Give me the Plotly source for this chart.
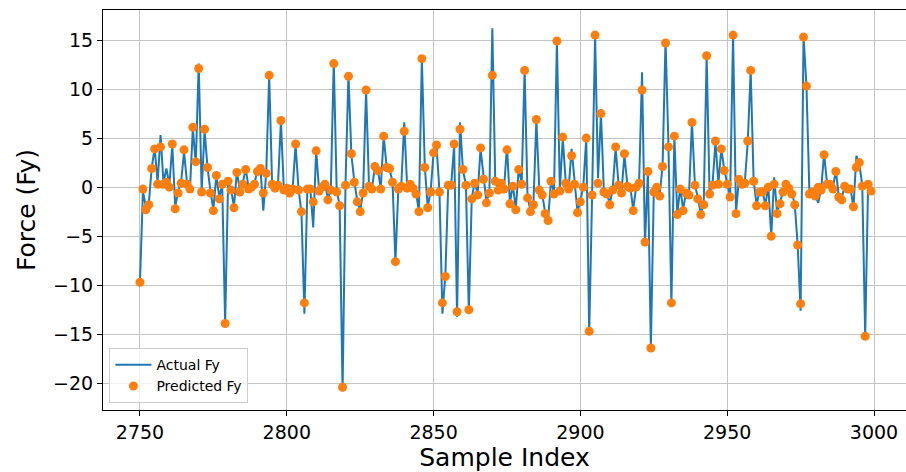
import plotly.graph_objects as go

# Sample indices covered by the window
start_index = 2750
n_samples = 250
sample_index = list(range(start_index, start_index + n_samples))

# Measured lateral force
actual_fy = [
    -9.7, -0.4, -2.0, -1.7, 2.0, 4.0, 0.5, 5.3, 0.5, 1.9,
    0.2, 4.3, -2.0, -0.4, 0.5, 3.6, 0.5, -0.3, 6.0, 2.4,
    12.6, -0.3, 5.8, 2.0, -0.4, -2.3, 1.2, -1.0, 0.2, -13.9,
    0.4, -0.2, -2.0, 1.6, -0.3, 0.4, 1.9, -0.1, 0.1, 0.4,
    1.7, 2.0, -2.4, 1.5, 11.4, 0.4, 0.0, 0.3, 6.7, -0.2,
    0.0, -0.5, -0.1, 4.3, -0.2, -2.6, -12.9, -0.1, -0.1, -4.1,
    3.7, -0.3, 0.1, 0.4, -1.2, -0.2, 12.8, -0.4, -1.8, -20.8,
    0.3, 11.5, 3.3, 0.6, -1.4, -2.4, -0.5, 9.9, 0.2, -0.1,
    2.0, 1.8, -0.1, 5.2, 2.1, 1.8, 0.6, -7.6, -0.1, 0.2,
    6.6, 0.0, 0.4, 0.0, -0.6, -2.4, 13.1, 2.1, -2.0, -0.4,
    3.6, 4.2, -0.4, -12.9, -9.0, 0.3, 0.3, 4.3, -13.2, 6.6,
    1.7, 0.3, -12.7, -1.1, 0.5, -0.7, 3.9, 0.9, -1.5, -0.5,
    16.2, 0.7, -0.2, 0.5, -0.1, 4.2, -1.6, 0.2, -2.2, 1.9,
    0.4, 12.0, -1.0, -2.4, -1.7, 6.8, -0.2, -0.7, -2.6, -3.3,
    0.7, -0.6, 14.9, -0.3, 5.0, 0.5, -0.1, 3.9, 0.4, -2.5,
    -1.4, 0.1, 5.0, -14.9, -0.7, 15.5, 0.9, 7.5, -0.4, -0.6,
    -1.7, -0.2, 4.0, 0.3, -0.5, 3.3, 0.2, 0.0, -2.3, 0.1,
    0.5, 11.7, -5.8, 1.7, -16.4, -0.4, 0.1, -0.8, 2.2, 15.0,
    4.2, -12.0, 5.1, -2.7, -0.1, -2.3, -0.5, -0.7, 6.6, 0.3,
    -1.1, -2.7, -1.7, 13.4, -0.6, 0.3, 4.6, 0.4, 3.9, 1.8,
    0.4, -0.9, 15.6, -2.6, 0.9, 0.4, 0.5, 4.6, 11.9, 0.7,
    -1.8, -0.4, -0.4, -1.8, 0.1, -5.0, 1.0, -2.6, -1.6, -0.4,
    0.4, 0.0, -0.6, -1.7, -5.9, -12.6, 15.4, 10.3, -0.6, -0.4,
    -0.8, -1.6, -0.2, 3.4, 0.4, 0.4, -0.1, 1.7, -0.9, -1.2,
    0.2, -0.1, -0.1, -2.1, 3.2, 2.4, 0.2, -15.2, 0.4, -0.3,
]

# Model prediction of the lateral force
predicted_fy = [
    -9.7, -0.2, -2.3, -1.8, 1.9, 3.9, 0.3, 4.1, 0.3, 0.5,
    0.0, 4.4, -2.2, -0.6, 0.4, 3.8, 0.3, -0.2, 6.1, 2.6,
    12.1, -0.5, 5.9, 2.0, -0.6, -2.4, 1.2, -1.2, 0.3, -13.9,
    0.6, -0.3, -2.1, 1.5, -0.5, 0.3, 1.8, -0.2, 0.0, 0.3,
    1.6, 1.9, -0.6, 1.4, 11.4, 0.3, -0.1, 0.2, 6.8, -0.3,
    -0.1, -0.6, -0.2, 4.4, -0.3, -2.5, -11.8, -0.2, -0.2, -1.5,
    3.7, -0.4, 0.0, 0.3, -1.3, -0.3, 12.6, -0.5, -1.9, -20.4,
    0.2, 11.3, 3.4, 0.5, -1.5, -2.5, -0.6, 9.9, 0.1, -0.2,
    2.1, 1.7, -0.2, 5.2, 2.0, 1.9, 0.5, -7.6, -0.2, 0.1,
    5.7, -0.1, 0.3, -0.1, -0.7, -2.5, 13.1, 2.0, -2.1, -0.5,
    3.5, 4.3, -0.5, -11.8, -9.1, 0.2, 0.2, 4.4, -12.7, 5.9,
    1.8, 0.2, -12.5, -1.2, 0.4, -0.8, 4.0, 0.8, -1.6, -0.6,
    11.4, 0.6, -0.3, 0.4, -0.2, 3.8, -1.7, 0.1, -2.3, 1.8,
    0.3, 11.9, -1.1, -2.5, -1.8, 6.9, -0.3, -0.8, -2.7, -3.4,
    0.6, -0.7, 14.9, -0.4, 5.1, 0.4, -0.2, 3.2, 0.3, -2.6,
    -1.5, 0.0, 5.0, -14.7, -0.8, 15.5, 0.4, 7.5, -0.5, -0.7,
    -1.8, -0.3, 4.1, 0.2, -0.6, 3.4, 0.1, -0.1, -2.4, 0.0,
    0.4, 9.9, -5.6, 1.6, -16.4, -0.5, 0.0, -0.9, 2.1, 14.7,
    4.1, -11.8, 5.2, -2.8, -0.2, -2.4, -0.6, -0.8, 6.6, 0.2,
    -1.2, -2.8, -1.8, 13.4, -0.7, 0.2, 4.7, 0.3, 3.9, 1.7,
    0.3, -1.0, 15.5, -2.7, 0.8, 0.3, 0.4, 4.7, 11.9, 0.6,
    -1.9, -0.5, -0.5, -1.9, 0.0, -5.0, 0.3, -2.7, -1.7, -0.5,
    0.3, -0.1, -0.7, -1.8, -5.9, -11.9, 15.3, 10.3, -0.7, -0.5,
    -0.9, 0.0, -0.3, 3.3, 0.3, 0.3, -0.2, 1.6, -1.0, -1.3,
    0.1, -0.2, -0.2, -2.0, 2.0, 2.5, 0.1, -15.2, 0.3, -0.4,
]

x_ticks = [2750, 2800, 2850, 2900, 2950, 3000]
y_ticks = [-20, -15, -10, -5, 0, 5, 10, 15]

BLUE = "#1f77b4"
ORANGE = "#ff7f0e"
FONT = "DejaVu Sans"

fig = go.Figure()
fig.add_trace(go.Scatter(
    x=sample_index, y=actual_fy, mode="lines", name="Actual Fy",
    line=dict(color=BLUE, width=2),
))
fig.add_trace(go.Scatter(
    x=sample_index, y=predicted_fy, mode="markers", name="Predicted Fy",
    marker=dict(color=ORANGE, size=9, line=dict(width=0)),
))

axis_common = dict(
    showline=True, linecolor="black", linewidth=1, mirror=True,
    showgrid=True, gridcolor="#c4c4c4", gridwidth=1,
    ticks="outside", ticklen=5, tickwidth=1, tickcolor="black",
    tickfont=dict(family=FONT, size=19, color="black"),
    zeroline=False,
)

fig.update_xaxes(
    range=[2737.4, 3010.9], tickvals=x_ticks,
    title=dict(text="Sample Index", font=dict(family=FONT, size=25, color="black"), standoff=2),
    **axis_common,
)
fig.update_yaxes(
    range=[-22.72, 18.06], tickvals=y_ticks,
    tickformat="d",
    title=dict(text="Force (Fy)", font=dict(family=FONT, size=25, color="black"), standoff=10),
    **axis_common,
)

fig.update_layout(
    width=906, height=472,
    margin=dict(l=103, r=0, t=10, b=62),
    paper_bgcolor="white", plot_bgcolor="white",
    font=dict(family=FONT, color="black"),
    showlegend=True,
    legend=dict(
        x=0.008, y=0.017, xanchor="left", yanchor="bottom",
        bgcolor="rgba(255,255,255,0.8)", bordercolor="#cccccc", borderwidth=1,
        font=dict(family=FONT, size=14, color="black"),
        tracegroupgap=0, itemwidth=36,
    ),
)

fig.write_html("out.html")
